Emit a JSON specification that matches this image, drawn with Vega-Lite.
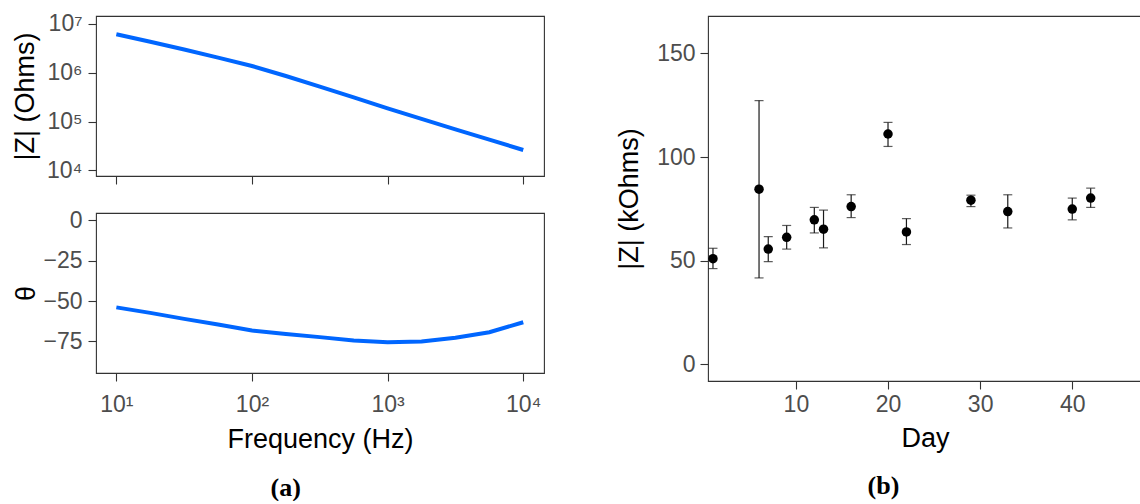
{
  "$schema": "https://vega.github.io/schema/vega-lite/v6.json",
  "padding": {"left": 10, "top": 12, "right": 0, "bottom": 0},
  "background": "white",
  "config": {
    "font": "Liberation Sans",
    "view": {"stroke": "#333333", "strokeWidth": 1.1},
    "axis": {
      "grid": false,
      "domain": false,
      "tickColor": "#333333",
      "tickSize": 8,
      "tickWidth": 1.1,
      "labelColor": "#4D4D4D",
      "labelFontSize": 23,
      "labelFont": "Liberation Sans",
      "titleFont": "Liberation Sans",
      "titleFontSize": 27,
      "titleFontWeight": "normal",
      "titleColor": "#000000"
    },
    "title": {"font": "Liberation Serif", "fontSize": 26, "fontWeight": "bold", "color": "#000000"}
  },
  "datasets": {
    "eis": [
      {"f": 10, "Z": 6150000, "theta": -53.9},
      {"f": 17.78, "Z": 4335000, "theta": -57.3},
      {"f": 31.62, "Z": 3006000, "theta": -61.0},
      {"f": 56.23, "Z": 2042000, "theta": -64.5},
      {"f": 100, "Z": 1377000, "theta": -68.2},
      {"f": 177.8, "Z": 859000, "theta": -70.3},
      {"f": 316.2, "Z": 520000, "theta": -72.3},
      {"f": 562.3, "Z": 313000, "theta": -74.4},
      {"f": 1000, "Z": 186600, "theta": -75.4},
      {"f": 1778, "Z": 113800, "theta": -75.0},
      {"f": 3162, "Z": 69300, "theta": -72.7},
      {"f": 5623, "Z": 42500, "theta": -69.3},
      {"f": 10000, "Z": 26060, "theta": -63.1}
    ],
    "days": [
      {"day": 1, "Z": 51.0, "lo": 46.2, "hi": 56.0},
      {"day": 6, "Z": 84.5, "lo": 41.7, "hi": 127.2},
      {"day": 7, "Z": 55.6, "lo": 49.6, "hi": 61.6},
      {"day": 9, "Z": 61.3, "lo": 55.6, "hi": 67.0},
      {"day": 12, "Z": 69.7, "lo": 63.4, "hi": 75.7},
      {"day": 13, "Z": 65.2, "lo": 56.2, "hi": 74.4},
      {"day": 16, "Z": 76.1, "lo": 70.8, "hi": 81.8},
      {"day": 20, "Z": 111.1, "lo": 105.1, "hi": 116.7},
      {"day": 22, "Z": 63.9, "lo": 57.8, "hi": 70.3},
      {"day": 29, "Z": 79.2, "lo": 76.1, "hi": 81.6},
      {"day": 33, "Z": 73.7, "lo": 65.8, "hi": 81.8},
      {"day": 40, "Z": 74.9, "lo": 69.7, "hi": 80.2},
      {"day": 42, "Z": 80.2, "lo": 75.7, "hi": 85.0},
      {"day": 48, "Z": 84.2, "lo": 78.6, "hi": 88.9}
    ]
  },
  "spacing": 70,
  "hconcat": [
    {
      "title": {"text": "(a)", "orient": "bottom", "anchor": "middle", "offset": 22, "dx": 8},
      "spacing": 37,
      "bounds": "flush",
      "vconcat": [
        {
          "width": 448,
          "height": 160,
          "data": {"name": "eis"},
          "mark": {"type": "line", "color": "#0066FF", "strokeWidth": 4},
          "encoding": {
            "x": {
              "field": "f", "type": "quantitative",
              "scale": {"type": "log", "domain": [7.079, 14223], "nice": false},
              "axis": {"values": [10, 100, 1000, 10000], "labels": false, "title": null}
            },
            "y": {
              "field": "Z", "type": "quantitative",
              "scale": {"type": "log", "domain": [7638, 14588000], "nice": false},
              "axis": {
                "values": [10000, 100000, 1000000, 10000000],
                "labelExpr": "'10' + ['⁰','¹','²','³','⁴','⁵','⁶','⁷','⁸'][round(log(datum.value)/LN10)]",
                "labelPadding": 6,
                "title": "|Z| (Ohms)",
                "titlePadding": 7
              }
            }
          }
        },
        {
          "width": 448,
          "height": 160,
          "data": {"name": "eis"},
          "mark": {"type": "line", "color": "#0066FF", "strokeWidth": 4},
          "encoding": {
            "x": {
              "field": "f", "type": "quantitative",
              "scale": {"type": "log", "domain": [7.079, 14223], "nice": false},
              "axis": {
                "values": [10, 100, 1000, 10000],
                "labelExpr": "'10' + ['⁰','¹','²','³','⁴','⁵','⁶','⁷','⁸'][round(log(datum.value)/LN10)]",
                "labelPadding": 12,
                "title": "Frequency (Hz)",
                "titlePadding": 10
              }
            },
            "y": {
              "field": "theta", "type": "quantitative",
              "scale": {"domain": [-94.5, 4.5], "nice": false, "zero": false},
              "axis": {"values": [0, -25, -50, -75], "labelPadding": 6, "title": "θ", "titlePadding": 2}
            }
          }
        }
      ]
    },
    {
      "width": 434,
      "height": 365,
      "title": {"text": "(b)", "orient": "bottom", "anchor": "middle", "offset": 22, "dx": -41.5},
      "data": {"name": "days"},
      "encoding": {
        "x": {
          "field": "day", "type": "quantitative",
          "scale": {"domain": [0.46, 47.57], "nice": false, "zero": false},
          "axis": {"values": [10, 20, 30, 40], "title": "Day", "labelPadding": 4, "titlePadding": 9}
        }
      },
      "layer": [
        {
          "mark": {"type": "errorbar", "clip": true, "color": "#1a1a1a", "thickness": 1.2, "ticks": {"size": 9, "thickness": 1.2, "color": "#1a1a1a"}},
          "encoding": {
            "y": {
              "field": "lo", "type": "quantitative",
              "scale": {"domain": [-8, 168], "nice": false, "zero": false},
              "axis": {"values": [0, 50, 100, 150], "labelPadding": 5, "title": "|Z| (kOhms)", "titlePadding": 13}
            },
            "y2": {"field": "hi"}
          }
        },
        {
          "mark": {"type": "point", "clip": true, "filled": true, "color": "#000000", "size": 90, "opacity": 1},
          "encoding": {
            "y": {
              "field": "Z", "type": "quantitative",
              "axis": {"values": [0, 50, 100, 150], "labelPadding": 5, "title": "|Z| (kOhms)", "titlePadding": 13}
            }
          }
        }
      ]
    }
  ]
}
